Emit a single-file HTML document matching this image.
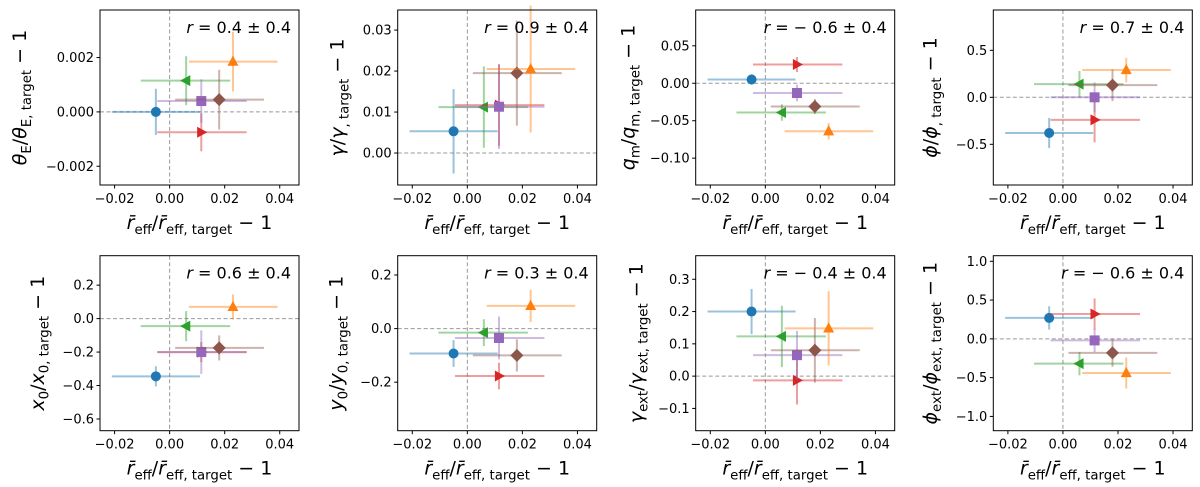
<!DOCTYPE html>
<html><head><meta charset="utf-8">
<style>
html,body{margin:0;padding:0;background:#fff;}
svg{display:block;font-family:"DejaVu Sans","Liberation Sans",sans-serif;}
</style></head>
<body>
<svg id="fig" width="1200" height="487" viewBox="0 0 1200 487" xmlns="http://www.w3.org/2000/svg"></svg>
<script>
// shared x data (r_eff fractional offsets) for the 6 series
const seriesNames = ['blue','green','red','purple','brown','orange'];
const seriesColors = ['#1f77b4','#2ca02c','#d62728','#9467bd','#8c564b','#ff7f0e'];
const seriesMarkers = ['circle','tri-left','tri-right','square','diamond','tri-up'];
const xVals = [-0.005, 0.006, 0.0115, 0.0115, 0.018, 0.023];
const xErrLo = [0.016, 0.0165, 0.016, 0.016, 0.016, 0.016];
const xErrHi = [0.016, 0.016, 0.0165, 0.0165, 0.0163, 0.0162];
const xTicks = [-0.02, 0, 0.02, 0.04];
const xTickLabels = ['\u22120.02','0.00','0.02','0.04'];

// per-panel y values and errors
const yThetaE = [0, 0.00115, -0.00075, 0.0004, 0.00045, 0.00185];
const eThetaE = [0.00085, 0.0009, 0.0007, 0.0008, 0.0011, 0.0011];
const yGamma = [0.0053, 0.0112, 0.0117, 0.0113, 0.0195, 0.0205];
const eGamma = [0.0103, 0.0099, 0.010, 0.0103, 0.0128, 0.0155];
const yQm = [0.005, -0.039, 0.025, -0.013, -0.031, -0.064];
const eQm = [0.007, 0.011, 0.010, 0.011, 0.010, 0.011];
const yPhi = [-0.38, 0.14, -0.24, 0.0, 0.13, 0.29];
const ePhi = [0.16, 0.14, 0.24, 0.16, 0.17, 0.13];
const yX0 = [-0.345, -0.045, -0.2, -0.2, -0.175, 0.07];
const eX0 = [0.06, 0.09, 0.06, 0.13, 0.075, 0.075];
const yY0 = [-0.093, -0.015, -0.177, -0.035, -0.1, 0.085];
const eY0 = [0.05, 0.05, 0.05, 0.08, 0.06, 0.06];
const yGext = [0.2, 0.123, -0.013, 0.065, 0.08, 0.148];
const eGext = [0.07, 0.095, 0.075, 0.075, 0.1, 0.115];
const yPhiExt = [0.27, -0.32, 0.32, -0.02, -0.18, -0.44];
const ePhiExt = [0.15, 0.15, 0.2, 0.15, 0.18, 0.2];

const rLabels = ['0.4 \u00b1 0.4','0.9 \u00b1 0.4','\u2212 0.6 \u00b1 0.4','0.7 \u00b1 0.4','0.6 \u00b1 0.4','0.3 \u00b1 0.4','\u2212 0.4 \u00b1 0.4','\u2212 0.6 \u00b1 0.4'];
const yTicksThetaE = [-0.002, 0, 0.002];
const yTicksGamma = [0, 0.01, 0.02, 0.03];
const yTicksQm = [-0.1, -0.05, 0, 0.05];
const yTicksPhi = [-0.5, 0, 0.5];
const yTicksX0 = [-0.6, -0.4, -0.2, 0, 0.2];
const yTicksY0 = [-0.2, 0, 0.2];
const yTicksGext = [-0.1, 0, 0.1, 0.2, 0.3];
const yTicksPhiExt = [-1, -0.5, 0, 0.5, 1];

const NS = 'http://www.w3.org/2000/svg';
const svg = document.getElementById('fig');
function el(tag, attrs, parent){
  const e = document.createElementNS(NS, tag);
  for (const k in attrs) e.setAttribute(k, attrs[k]);
  (parent||svg).appendChild(e);
  return e;
}
function fmt(v, dec){
  const s = Math.abs(v).toFixed(dec);
  return (v < -1e-12 ? '\u2212' : '') + s;
}

const panels = [
  {name:'theta-e', left:100, top:10, ylim:[-0.00269,0.00375], ys:yThetaE, es:eThetaE, ticks:yTicksThetaE, dec:3, labOff:80,
   ylab:[['\u03b8','it'],['E','sub'],['/',''],['\u03b8','it'],['E, target','sub'],[' \u2212 1','']]},
  {name:'gamma', left:397.7, top:10, ylim:[-0.0078,0.0349], ys:yGamma, es:eGamma, ticks:yTicksGamma, dec:2, labOff:60,
   ylab:[['\u03b3','it'],['/',''],['\u03b3','it'],[', target','sub'],[' \u2212 1','']]},
  {name:'q-m', left:695.7, top:10, ylim:[-0.1358,0.0978], ys:yQm, es:eQm, ticks:yTicksQm, dec:2, labOff:67,
   ylab:[['q','it'],['m','sub'],['/','' ],['q','it'],['m, target','sub'],[' \u2212 1','']]},
  {name:'phi', left:993.3, top:10, ylim:[-0.933,0.929], ys:yPhi, es:ePhi, ticks:yTicksPhi, dec:1, labOff:63,
   ylab:[['\u03d5','it'],['/',''],['\u03d5','it'],[', target','sub'],[' \u2212 1','']]},
  {name:'x0', left:100, top:255.7, ylim:[-0.67,0.376], ys:yX0, es:eX0, ticks:yTicksX0, dec:1, labOff:62,
   ylab:[['x','it'],['0','sub'],['/','' ],['x','it'],['0, target','sub'],[' \u2212 1','']]},
  {name:'y0', left:397.7, top:255.7, ylim:[-0.381,0.272], ys:yY0, es:eY0, ticks:yTicksY0, dec:1, labOff:61,
   ylab:[['y','it'],['0','sub'],['/','' ],['y','it'],['0, target','sub'],[' \u2212 1','']]},
  {name:'gamma-ext', left:695.7, top:255.7, ylim:[-0.169,0.373], ys:yGext, es:eGext, ticks:yTicksGext, dec:1, labOff:59,
   ylab:[['\u03b3','it'],['ext','sub'],['/',''],['\u03b3','it'],['ext, target','sub'],[' \u2212 1','']]},
  {name:'phi-ext', left:993.3, top:255.7, ylim:[-1.184,1.072], ys:yPhiExt, es:ePhiExt, ticks:yTicksPhiExt, dec:1, labOff:63,
   ylab:[['\u03d5','it'],['ext','sub'],['/',''],['\u03d5','it'],['ext, target','sub'],[' \u2212 1','']]},
];
const W = 199, H = 175, XLIM = [-0.0253, 0.047];

function addRich(t, parts, big){
  let shifted = false;
  parts.forEach(p=>{
    const ts = el('tspan', {}, t);
    if (p[1]==='sub'){
      ts.setAttribute('font-size', big*0.7);
      if(!shifted){ ts.setAttribute('dy', big*0.25); shifted=true; }
    } else {
      if (shifted){ ts.setAttribute('dy', -big*0.25); shifted=false; }
      if (p[1]==='it') ts.setAttribute('font-style','italic');
    }
    ts.textContent = p[0];
  });
}

function marker(g, shape, cx, cy, color){
  const s = 5.5;
  let m;
  if (shape==='circle') m = el('circle',{cx:cx,cy:cy,r:5},g);
  else if (shape==='square') m = el('rect',{x:cx-5,y:cy-5,width:10,height:10},g);
  else {
    let pts;
    if (shape==='tri-up') pts=[[0,-s*1.1],[s,s*0.75],[-s,s*0.75]];
    else if (shape==='tri-left') pts=[[-s*1.1,0],[s*0.75,-s],[s*0.75,s]];
    else if (shape==='tri-right') pts=[[s*1.1,0],[-s*0.75,-s],[-s*0.75,s]];
    else pts=[[0,-6.5],[6.5,0],[0,6.5],[-6.5,0]];
    m = el('polygon',{points:pts.map(p=>(cx+p[0])+','+(cy+p[1])).join(' ')},g);
  }
  m.setAttribute('fill', color);
  return m;
}

panels.forEach((p, pi)=>{
  const g = el('g', {});
  
  
  const L=p.left, T=p.top;
  const xs = v => L + (v - XLIM[0]) / (XLIM[1]-XLIM[0]) * W;
  const ys = v => T + H - (v - p.ylim[0]) / (p.ylim[1]-p.ylim[0]) * H;
  const zx = el('line',{x1:xs(0),x2:xs(0),y1:T,y2:T+H,stroke:'#999','stroke-width':1,'stroke-dasharray':'4,2.5'},g);
  
  
  const zy = el('line',{x1:L,x2:L+W,y1:ys(0),y2:ys(0),stroke:'#999','stroke-width':1,'stroke-dasharray':'4,2.5'},g);
  
  
  for (let i=0;i<6;i++){
    const sg = el('g',{},g);
    
    
    const cx = xs(xVals[i]), cy = ys(p.ys[i]);
    el('line',{x1:xs(xVals[i]-xErrLo[i]),x2:xs(xVals[i]+xErrHi[i]),y1:cy,y2:cy,stroke:seriesColors[i],'stroke-width':2,'stroke-opacity':0.45},sg);
    el('line',{x1:cx,x2:cx,y1:ys(p.ys[i]-p.es[i]),y2:ys(p.ys[i]+p.es[i]),stroke:seriesColors[i],'stroke-width':2,'stroke-opacity':0.45},sg);
    marker(sg, seriesMarkers[i], cx, cy, seriesColors[i]);
  }
  const fr = el('rect',{x:L,y:T,width:W,height:H,fill:'none',stroke:'#000','stroke-width':1},g);
  
  
  xTicks.forEach((v,k)=>{
    el('line',{x1:xs(v),x2:xs(v),y1:T+H,y2:T+H+3.5,stroke:'#000','stroke-width':1},g);
    const t = el('text',{x:xs(v),y:T+H+18,'font-size':13,'text-anchor':'middle',fill:'#000'},g);
    
    
    t.textContent = xTickLabels[k];
  });
  p.ticks.forEach(v=>{
    el('line',{x1:L-3.5,x2:L,y1:ys(v),y2:ys(v),stroke:'#000','stroke-width':1},g);
    const t = el('text',{x:L-6,y:ys(v)+4.5,'font-size':13,'text-anchor':'end',fill:'#000'},g);
    
    
    t.textContent = fmt(v, p.dec);
  });
  const xl = el('text',{x:L+W/2,y:T+H+44,'font-size':19,'text-anchor':'middle',fill:'#000'},g);
  
  
  addRich(xl, [['r\u0304','it'],['eff','sub'],['/','' ],['r\u0304','it'],['eff, target','sub'],[' \u2212 1','']], 19);
  const cxL = L - p.labOff, cyL = T + H/2;
  const yl = el('text',{x:cxL,y:cyL,'font-size':19,'text-anchor':'middle',fill:'#000',transform:'rotate(-90 '+cxL+' '+cyL+') translate(0 6)'},g);
  
  
  addRich(yl, p.ylab, 19);
  const rt = el('text',{x:L+W-8,y:T+23,'font-size':16,'text-anchor':'end',fill:'#000'},g);
  
  
  const r1 = el('tspan',{'font-style':'italic'},rt); r1.textContent='r';
  const r2 = el('tspan',{},rt); r2.textContent=' = ' + rLabels[pi];
});
</script>
</body></html>
